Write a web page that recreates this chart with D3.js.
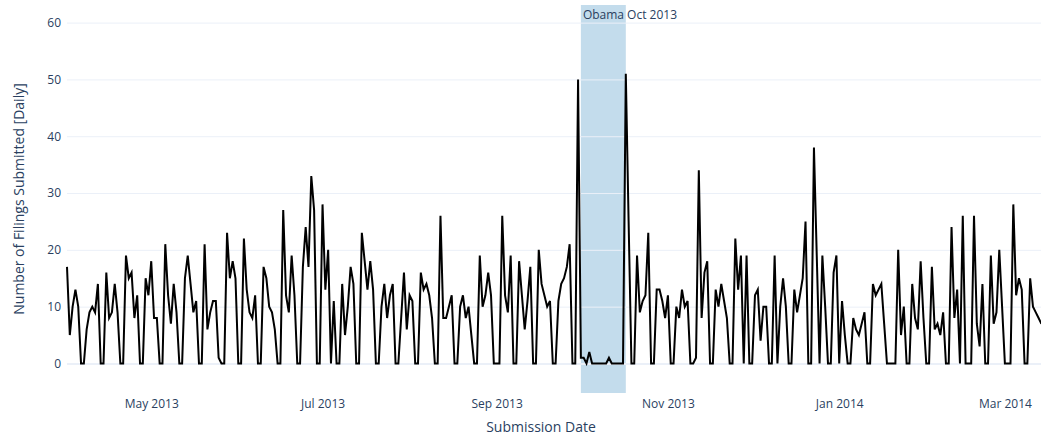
<!DOCTYPE html>
<html>
<head>
<meta charset="utf-8">
<script src="https://cdn.jsdelivr.net/npm/d3@7"></script>
<style>
  html, body { margin: 0; padding: 0; background: #fff; }
  svg { display: block; font-family: "Open Sans", verdana, arial, sans-serif; }
</style>
</head>
<body>
<svg id="chart" width="1041" height="438"></svg>
<script>
// ---- data (daily filings, starting 2013-04-01) ----
const startDate = "2013-04-01";
const filings = [
  17,5,10,13,10,0,0,  6,9,10,9,14,0,0,  16,8,9,14,9,0,0,  19,15,16,8,12,0,0,
  15,12,18,8,8,0,0,   21,12,7,14,9,0,0, 15,19,14,9,11,0,0, 21,6,9,11,11,1,0,
  0,23,15,18,15,0,0,  22,13,9,8,12,0,0, 17,15,10,9,6,0,0,  27,12,9,19,12,0,0,
  17,24,17,33,27,0,0, 28,13,20,0,11,0,0, 14,5,10,17,14,0,0, 23,18,13,18,13,0,0,
  10,14,8,12,14,0,0,  8,16,6,12,11,0,0, 16,13,14,12,8,0,0, 26,8,8,10,12,0,0,
  10,12,8,10,5,0,0,   19,10,12,16,12,0,0, 0,26,12,9,19,0,0, 18,12,6,11,17,0,0,
  20,14,12,10,11,0,0, 11,14,15,17,21,0,0, 50,1,1,0,2,0,0,  0,0,0,0,1,0,0,
  0,0,0,51,25,0,0,    19,9,11,12,23,0,0, 13,13,11,8,12,0,0, 10,8,13,10,11,0,0,
  1,34,8,16,18,0,0,   13,10,14,11,8,0,0, 22,13,19,0,19,0,0, 12,13,4,10,10,0,0,
  19,0,10,15,10,0,0,  13,9,12,15,25,0,0, 38,19,0,19,10,0,0, 16,19,0,11,5,0,0,
  8,6,5,7,9,0,0,      14,12,13,14,7,0,0, 0,0,20,5,10,0,0,  14,8,6,18,8,0,0,
  17,6,7,5,9,0,0,     24,8,13,0,26,0,0, 0,26,7,3,14,0,0,  19,7,9,20,10,0,0,
  0,28,12,15,13,0,0,  15,10,9,8,7
];
const yTicks = [0, 10, 20, 30, 40, 50, 60];
const xTickDates = ["2013-05-01","2013-07-01","2013-09-01","2013-11-01","2014-01-01","2014-03-01"];
const shadeRange = ["2013-10-01", "2013-10-17"];
const shadeLabel = "Obama Oct 2013";
const xTitle = "Submission Date";
const yTitle = "Number of Filings Submitted [Daily]";

// ---- build ----
const parse = d3.utcParse("%Y-%m-%d");
const t0 = parse(startDate);
const series = filings.map((v, i) => ({ date: d3.utcDay.offset(t0, i), value: v }));

const svg = d3.select("#chart");
const plot = { left: 67, right: 1041.4, top: 5, bottom: 393 };

const x = d3.scaleUtc()
  .domain(d3.extent(series, d => d.date))
  .range([plot.left, plot.right]);
const y = d3.scaleLinear()
  .domain([-5.2, 63.1])
  .range([plot.bottom, plot.top]);

const textColor = "#2a3f5f";
const gridColor = "#EBF0F8";

// shaded period
svg.append("rect")
  .attr("x", x(parse(shadeRange[0])))
  .attr("y", plot.top)
  .attr("width", x(parse(shadeRange[1])) - x(parse(shadeRange[0])))
  .attr("height", plot.bottom - plot.top)
  .attr("fill", "#c3dcec");

// y grid + labels
const yAxis = d3.axisLeft(y).tickValues(yTicks).tickSize(-(plot.right - plot.left)).tickPadding(6);
const gy = svg.append("g").attr("transform", `translate(${plot.left},0)`).call(yAxis);
gy.select(".domain").remove();
gy.selectAll(".tick line")
  .attr("stroke", gridColor)
  .attr("stroke-width", d => d === 0 ? 2 : 1);
gy.selectAll(".tick text")
  .attr("fill", textColor)
  .attr("font-size", 12)
  .attr("font-family", '"Open Sans", verdana, arial, sans-serif');

// x axis labels
const xAxis = d3.axisBottom(x)
  .tickValues(xTickDates.map(parse))
  .tickFormat(d3.utcFormat("%b %Y"))
  .tickSize(0).tickPadding(6);
const gx = svg.append("g").attr("transform", `translate(0,${plot.bottom})`).call(xAxis);
gx.select(".domain").remove();
gx.selectAll(".tick text")
  .attr("fill", textColor)
  .attr("font-size", 12)
  .attr("font-family", '"Open Sans", verdana, arial, sans-serif');

// line
const line = d3.line().x(d => x(d.date)).y(d => y(d.value));
svg.append("path")
  .datum(series)
  .attr("fill", "none")
  .attr("stroke", "#000")
  .attr("stroke-width", 2)
  .attr("d", line);

// annotation
svg.append("text")
  .attr("x", x(parse(shadeRange[0])) + 2)
  .attr("y", 19)
  .attr("fill", textColor)
  .attr("font-size", 12)
  .text(shadeLabel);

// axis titles
svg.append("text")
  .attr("x", 541).attr("y", 432)
  .attr("text-anchor", "middle")
  .attr("fill", textColor)
  .attr("font-size", 14)
  .text(xTitle);
svg.append("text")
  .attr("transform", `translate(24,${(plot.top + plot.bottom) / 2}) rotate(-90)`)
  .attr("text-anchor", "middle")
  .attr("fill", textColor)
  .attr("font-size", 14)
  .text(yTitle);
</script>
</body>
</html>
